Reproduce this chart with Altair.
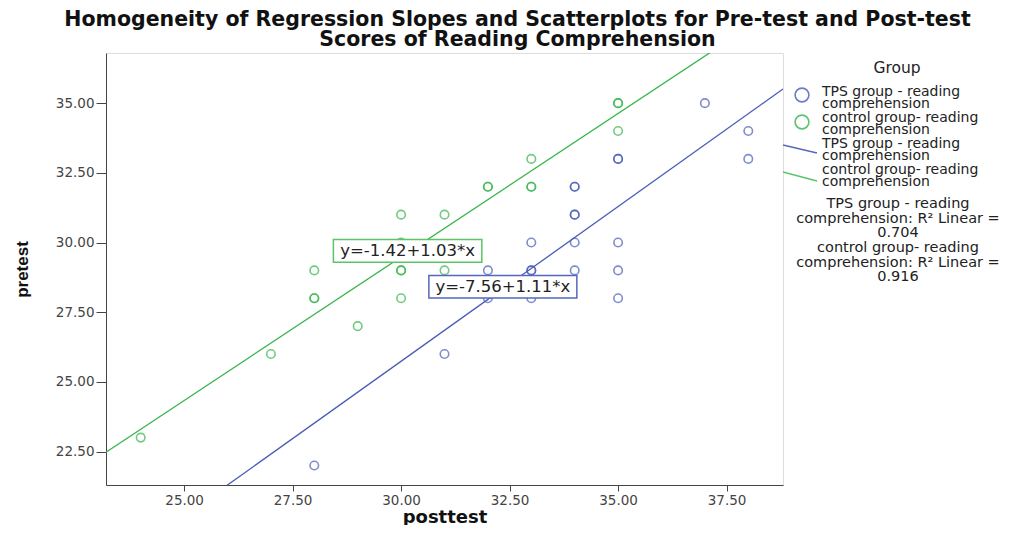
import altair as alt
import pandas as pd

# ---------------- data ----------------
groups = ["TPS group - reading comprehension", "control group- reading comprehension"]

tps_post = [28, 31, 32, 32, 33, 33, 33, 33, 34, 34, 34, 34, 34, 34, 35, 35, 35, 35, 35, 37, 38, 38]
tps_pre  = [22, 26, 29, 28, 30, 29, 29, 28, 32, 32, 31, 31, 30, 29, 33, 33, 30, 29, 28, 35, 34, 33]

ctl_post = [24, 27, 28, 28, 28, 29, 30, 30, 30, 30, 30, 31, 31, 32, 32, 33, 33, 33, 35, 35, 35]
ctl_pre  = [23, 26, 29, 28, 28, 27, 31, 30, 29, 29, 28, 31, 29, 32, 32, 33, 32, 32, 35, 35, 34]

intercepts = [-7.56, -1.42]
slopes = [1.11, 1.03]
r2_values = ["0.704", "0.916"]

x_ticks = [25, 27.5, 30, 32.5, 35, 37.5]
y_ticks = [22.5, 25, 27.5, 30, 32.5, 35]
x_domain = [23.2, 38.8]
y_domain = [21.3, 36.8]

# equation label boxes (data coordinates): x1, x2, y1, y2
label_boxes = [[30.64, 34.05, 28.01, 28.82], [28.44, 31.86, 29.29, 30.11]]

title_lines = ["Homogeneity of Regression Slopes and Scatterplots for Pre-test and Post-test",
               "Scores of Reading Comprehension"]

BLUE = "#4a5cb8"
GREEN = "#35b54a"
BLUE_LINE = "#5567bd"
GREEN_LINE = "#5cc466"
FONT = "DejaVu Sans"

# ---------------- tables ----------------
pts = pd.DataFrame({
    "posttest": tps_post + ctl_post,
    "pretest": tps_pre + ctl_pre,
    "group": [groups[0]] * len(tps_post) + [groups[1]] * len(ctl_post),
})

line_rows = []
for g, a, b in zip(groups, intercepts, slopes):
    for xv in x_domain:
        line_rows.append({"group": g, "posttest": xv, "pretest": a + b * xv})
lines = pd.DataFrame(line_rows)

lab_rows = []
for g, a, b, box in zip(groups, intercepts, slopes, label_boxes):
    lab_rows.append({
        "group": g, "x1": box[0], "x2": box[1], "y1": box[2], "y2": box[3],
        "xc": (box[0] + box[1]) / 2, "yc": (box[2] + box[3]) / 2,
        "text": f"y={a:.2f}+{b:.2f}*x",
    })
labs = pd.DataFrame(lab_rows)

color = alt.Color("group:N", scale=alt.Scale(domain=groups, range=[BLUE, GREEN]), legend=None)
line_color = alt.Color("group:N", scale=alt.Scale(domain=groups, range=[BLUE_LINE, GREEN_LINE]), legend=None)

xs = alt.Scale(domain=x_domain, nice=False, zero=False)
ys = alt.Scale(domain=y_domain, nice=False, zero=False)

x_axis = alt.Axis(values=x_ticks, format=".2f", title="posttest", grid=False,
                  labelFont=FONT, labelFontSize=13.5, labelColor="#444",
                  titleFont=FONT, titleFontSize=18, titleFontWeight="bold", titleColor="#111",
                  tickSize=6, labelPadding=2, titleY=37, titleBaseline="alphabetic",
                  domainColor="#444", tickColor="#444")
y_axis = alt.Axis(values=y_ticks, format=".2f", title="pretest", grid=False,
                  labelFont=FONT, labelFontSize=13.5, labelColor="#444",
                  titleFont="Liberation Sans", titleFontSize=17, titleFontWeight="bold", titleColor="#111",
                  tickSize=10, labelPadding=2, titlePadding=24,
                  domainColor="#444", tickColor="#444")

points = alt.Chart(pts).mark_point(shape="circle", filled=False, size=72, strokeWidth=1.6, opacity=0.7).encode(
    x=alt.X("posttest:Q", scale=xs, axis=x_axis),
    y=alt.Y("pretest:Q", scale=ys, axis=y_axis),
    color=color,
)

reg = alt.Chart(lines).mark_line(clip=True, strokeWidth=1.3).encode(
    x=alt.X("posttest:Q", scale=xs),
    y=alt.Y("pretest:Q", scale=ys),
    color=line_color,
    detail="group:N",
)

boxes = alt.Chart(labs).mark_rect(fill="white", strokeWidth=1.5).encode(
    x=alt.X("x1:Q", scale=xs), x2="x2:Q",
    y=alt.Y("y1:Q", scale=ys), y2="y2:Q",
    stroke=alt.Stroke("group:N", scale=alt.Scale(domain=groups, range=[BLUE_LINE, GREEN_LINE]), legend=None),
)

box_text = alt.Chart(labs).mark_text(font=FONT, fontSize=16.5, color="#222", align="center", baseline="middle").encode(
    x=alt.X("xc:Q", scale=xs), y=alt.Y("yc:Q", scale=ys), text="text:N",
)

# ---------------- hand-built legend (positions relative to plot origin) ----------------
legend_layers = []
one = pd.DataFrame({"k": [0]})

def txt(s, x, y, align="left", size=13.3, lh=None):
    kw = {}
    if lh is not None:
        kw = {"lineBreak": "\n", "lineHeight": lh}
    return alt.Chart(pd.DataFrame({"t": [s]})).mark_text(
        font=FONT, fontSize=size, color="#222", align=align, baseline="middle", **kw
    ).encode(x=alt.value(x), y=alt.value(y), text="t:N")

legend_layers.append(txt("Group", 791, 15, align="center", size=15.5))

split_labels = [["TPS group - reading", "comprehension"], ["control group- reading", "comprehension"]]
sym_colors = [BLUE, GREEN]
line_colors = [BLUE_LINE, GREEN_LINE]

circle_y = [42, 69]
for i in range(2):
    legend_layers.append(
        alt.Chart(one).mark_point(shape="circle", filled=False, size=190, strokeWidth=1.6,
                                  color=sym_colors[i], opacity=0.8)
        .encode(x=alt.value(696), y=alt.value(circle_y[i]))
    )
line_y = [(92, 100), (119, 128)]
for i in range(2):
    legend_layers.append(
        alt.Chart(one).mark_rule(color=line_colors[i], strokeWidth=1.3)
        .encode(x=alt.value(677), x2=alt.value(711), y=alt.value(line_y[i][0]), y2=alt.value(line_y[i][1]))
    )

# y of the first line of each multi-line block
entry_y = [38.7, 65, 91, 117]
entries = split_labels + split_labels
for lab, yy in zip(entries, entry_y):
    legend_layers.append(txt("\n".join(lab), 716, yy, size=14, lh=12))

r2_block_y = [151, 195]
for lab, r, yy in zip(split_labels, r2_values, r2_block_y):
    block = "\n".join([lab[0], lab[1] + ": R\u00b2 Linear =", r])
    legend_layers.append(txt(block, 792, yy, align="center", size=14.5, lh=14.5))

chart = alt.layer(points, reg, boxes, box_text, *legend_layers).properties(
    width=677, height=432,
    title=alt.TitleParams(text=title_lines, font=FONT, fontSize=20.5, fontWeight="bold", color="#111",
                          anchor="middle", dx=73, offset=3, lineHeight=20),
    autosize=alt.AutoSizeParams(type="none"),
    padding={"left": 98, "top": 45, "right": 237, "bottom": 40},
).configure_view(fill="#f0f0f0", stroke="#666", strokeWidth=1.2
).configure(background="white")

chart.save("out.html", embed_options={"renderer": "svg", "actions": False})
